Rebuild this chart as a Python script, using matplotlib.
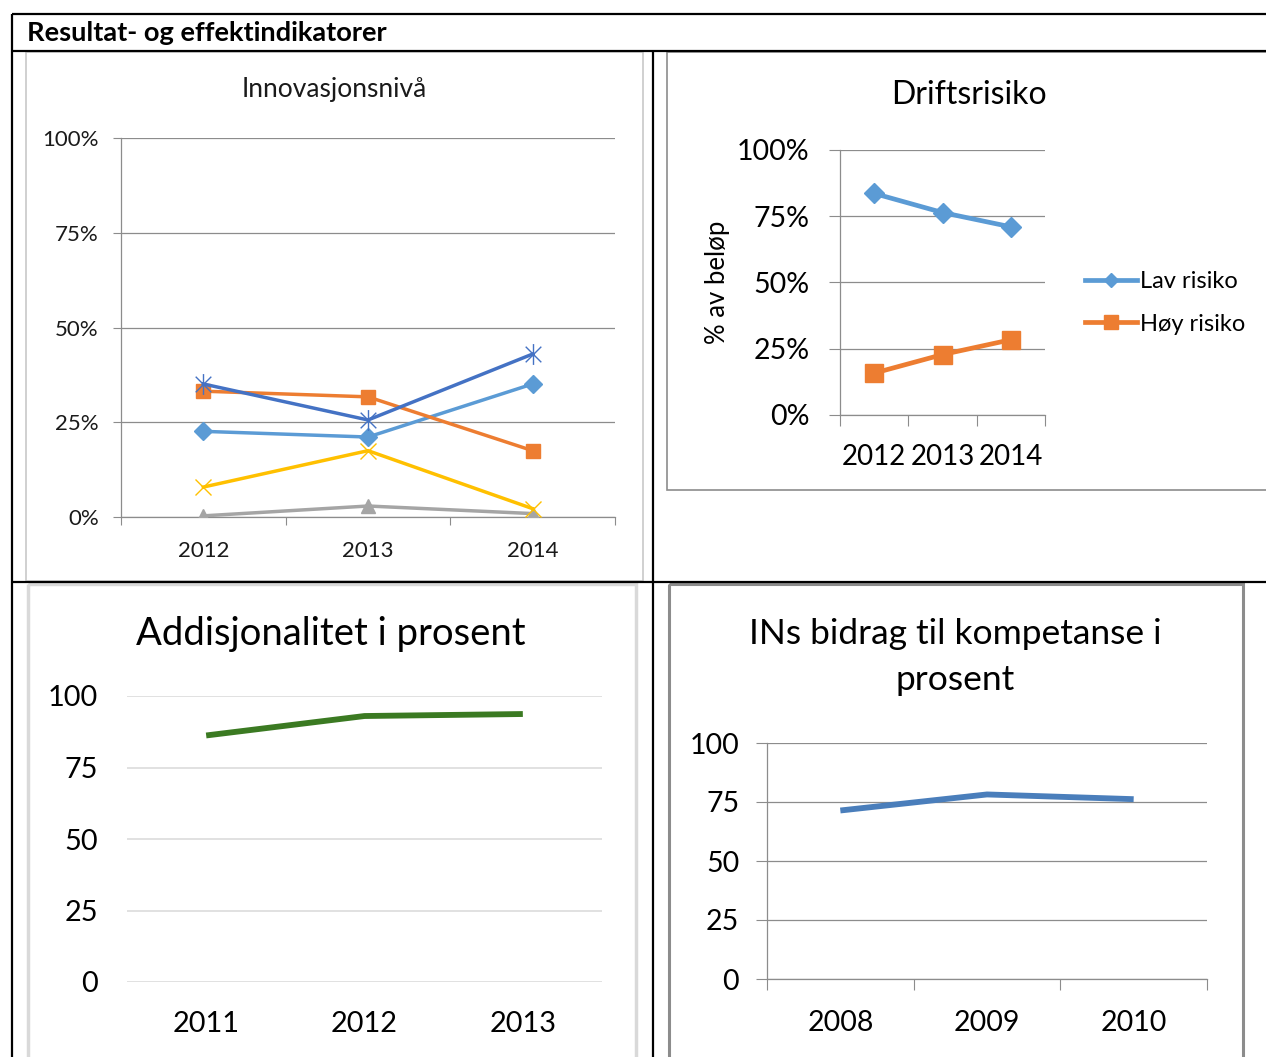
import matplotlib
matplotlib.use("Agg")
import matplotlib.pyplot as plt
from matplotlib.path import Path
from matplotlib.patches import Rectangle

plt.rcParams['font.family'] = ['Lato', 'DejaVu Sans']

# ---- data ----
innov_years = ["2012", "2013", "2014"]
innov_star = [35.1, 25.6, 43.0]
innov_square = [33.2, 31.7, 17.5]
innov_diamond = [22.6, 21.1, 35.1]
innov_cross = [7.9, 17.5, 2.2]
innov_triangle = [0.3, 2.9, 0.9]

drift_years = ["2012", "2013", "2014"]
lav_risiko = [83.6, 76.4, 71.0]
hoy_risiko = [15.8, 22.8, 28.4]

addis_years = ["2011", "2012", "2013"]
addis_values = [86.2, 93.0, 93.7]

komp_years = ["2008", "2009", "2010"]
komp_values = [71.4, 78.2, 76.2]

pct_ticks = [0, 25, 50, 75, 100]
pct_labels = ["0%", "25%", "50%", "75%", "100%"]
num_labels = ["0", "25", "50", "75", "100"]

W, H = 1266, 1057
fig = plt.figure(figsize=(W / 100, H / 100), dpi=100)


def rect(x0, y0, x1, y1):
    return [x0 / W, 1 - y1 / H, (x1 - x0) / W, (y1 - y0) / H]


# background layer in pixel units for the table frame and titles
bg = fig.add_axes([0, 0, 1, 1], zorder=0)
bg.set_xlim(0, W)
bg.set_ylim(H, 0)
bg.axis("off")

# chart frames
bg.add_patch(Rectangle((26, 52), 617, 529, fill=False, ec="#C8C8C8", lw=1.2))
bg.add_patch(Rectangle((667, 52), 610, 438, fill=False, ec="#8C8C8C", lw=1.2))
bg.add_patch(Rectangle((28, 584), 608, 480, fill=False, ec="#D9D9D9", lw=2.5))
bg.add_patch(Rectangle((669, 584), 574, 480, fill=False, ec="#8C8C8C", lw=2.2))

# table rules
tbl = dict(color="black", lw=1.6, solid_capstyle="butt")
bg.plot([12, W], [14, 14], **tbl)
bg.plot([12, W], [50.5, 50.5], **tbl)
bg.plot([12, 12], [14, H], **tbl)
bg.plot([653, 653], [50, H], **tbl)
bg.plot([12, W], [581.5, 581.5], **tbl)

bg.text(27, 33, "Resultat- og effektindikatorer", fontsize=19.6,
        fontweight="bold", ha="left", va="center", color="black")

txt = "#1A1A1A"
grid_dark = "#8C8C8C"

# ---- Innovasjonsnivå ----
bg.text(334, 90, "Innovasjonsnivå", fontsize=19, ha="center", va="center", color=txt)
ax1 = fig.add_axes(rect(121, 138, 615, 517), zorder=1)
ax1.patch.set_alpha(0)
x = range(len(innov_years))
star = Path([(0, -1), (0, 1), (-0.75, -0.75), (0.75, 0.75), (-0.75, 0.75), (0.75, -0.75)],
            [Path.MOVETO, Path.LINETO, Path.MOVETO, Path.LINETO, Path.MOVETO, Path.LINETO])
lw1 = 2.5
ax1.plot(x, innov_triangle, color="#A5A5A5", lw=lw1, marker="^", ms=10, zorder=3)
ax1.plot(x, innov_cross, color="#FFC000", lw=lw1, marker="x", ms=12, mew=1.0, zorder=3)
ax1.plot(x, innov_diamond, color="#5B9BD5", lw=lw1, marker="D", ms=9, zorder=3)
ax1.plot(x, innov_square, color="#ED7D31", lw=lw1, marker="s", ms=9.5, zorder=3)
ax1.plot(x, innov_star, color="#4472C4", lw=lw1, marker=star, ms=15, mew=1.0,
         mec="#4472C4", zorder=3)
ax1.set_xlim(-0.5, 2.5)
ax1.set_ylim(0, 100)
ax1.set_yticks(pct_ticks)
ax1.set_yticklabels(pct_labels)
ax1.set_xticks([-0.5, 0.5, 1.5, 2.5])
ax1.set_xticklabels([])
ax1.set_xticks(list(x), minor=True)
ax1.set_xticklabels(innov_years, minor=True)
ax1.tick_params(axis="x", which="major", length=6, color=grid_dark)
ax1.tick_params(axis="x", which="minor", length=0, pad=17, labelsize=16, labelcolor=txt)
ax1.tick_params(axis="y", length=6, color=grid_dark, pad=10, labelsize=16, labelcolor=txt)
ax1.grid(axis="y", color=grid_dark, lw=0.9)
for s in ("top", "right"):
    ax1.spines[s].set_visible(False)
for s in ("left", "bottom"):
    ax1.spines[s].set_color(grid_dark)
    ax1.spines[s].set_linewidth(0.9)

# ---- Driftsrisiko ----
bg.text(969, 95, "Driftsrisiko", fontsize=23, ha="center", va="center", color="black")
bg.text(717, 282, "% av beløp", fontsize=18.5, rotation=90, ha="center", va="center",
        color="black")
ax2 = fig.add_axes(rect(840, 150, 1045, 415), zorder=1)
ax2.patch.set_alpha(0)
x = range(len(drift_years))
h1, = ax2.plot(x, lav_risiko, color="#5B9BD5", lw=3.4, marker="D", ms=10, zorder=3,
               label="Lav risiko")
h2, = ax2.plot(x, hoy_risiko, color="#ED7D31", lw=3.4, marker="s", ms=13, zorder=3,
               label="Høy risiko")
ax2.set_xlim(-0.5, 2.5)
ax2.set_ylim(0, 100)
ax2.set_yticks(pct_ticks)
ax2.set_yticklabels(pct_labels)
ax2.set_xticks([-0.5, 0.5, 1.5, 2.5])
ax2.set_xticklabels([])
ax2.set_xticks(list(x), minor=True)
ax2.set_xticklabels(drift_years, minor=True)
ax2.tick_params(axis="x", which="major", length=8, color=grid_dark)
ax2.tick_params(axis="x", which="minor", length=0, pad=21, labelsize=20, labelcolor="black")
ax2.tick_params(axis="y", length=8, color=grid_dark, pad=14, labelsize=20.5, labelcolor="black")
ax2.grid(axis="y", color=grid_dark, lw=0.9)
for s in ("top", "right"):
    ax2.spines[s].set_visible(False)
for s in ("left", "bottom"):
    ax2.spines[s].set_color(grid_dark)
    ax2.spines[s].set_linewidth(0.9)
ax2.legend(handles=[h1, h2], loc="center left", bbox_to_anchor=(1085 / W, 1 - 303 / H),
           bbox_transform=fig.transFigure, frameon=False, fontsize=17,
           handlelength=2.2, handletextpad=0.15, labelspacing=0.9,
           borderpad=0, borderaxespad=0, markerscale=0.75)

# ---- Addisjonalitet i prosent ----
bg.text(331, 634, "Addisjonalitet i prosent", fontsize=27.5, ha="center", va="center",
        color="black")
ax3 = fig.add_axes(rect(127, 696, 602, 982), zorder=1)
ax3.patch.set_alpha(0)
x = range(len(addis_years))
ax3.plot(x, addis_values, color="#3B7A22", lw=4.2, solid_capstyle="butt", zorder=3)
ax3.set_xlim(-0.5, 2.5)
ax3.set_ylim(0, 100)
ax3.set_yticks(pct_ticks)
ax3.set_yticklabels(num_labels)
ax3.set_xticks(list(x))
ax3.set_xticklabels(addis_years)
ax3.tick_params(axis="both", length=0, labelsize=20.8, labelcolor="black")
ax3.tick_params(axis="y", pad=21)
ax3.tick_params(axis="x", pad=21)
ax3.grid(axis="y", color="#D9D9D9", lw=1.1)
for s in ax3.spines.values():
    s.set_visible(False)

# ---- INs bidrag til kompetanse i prosent ----
bg.text(955, 657, "INs bidrag til kompetanse i\nprosent", fontsize=25.5, ha="center",
        va="center", color="black", linespacing=1.55)
ax4 = fig.add_axes(rect(767, 743, 1207, 979), zorder=1)
ax4.patch.set_alpha(0)
x = range(len(komp_years))
ax4.plot(x, komp_values, color="#4A7EBB", lw=4.2, solid_capstyle="butt", zorder=3)
ax4.set_xlim(-0.5, 2.5)
ax4.set_ylim(0, 100)
ax4.set_yticks(pct_ticks)
ax4.set_yticklabels(num_labels)
ax4.set_xticks([-0.5, 0.5, 1.5, 2.5])
ax4.set_xticklabels([])
ax4.set_xticks(list(x), minor=True)
ax4.set_xticklabels(komp_years, minor=True)
ax4.tick_params(axis="x", which="major", length=8, color=grid_dark)
ax4.tick_params(axis="x", which="minor", length=0, pad=22, labelsize=20.5, labelcolor="black")
ax4.tick_params(axis="y", length=8, color=grid_dark, pad=12, labelsize=20.5, labelcolor="black")
ax4.grid(axis="y", color=grid_dark, lw=0.9)
for s in ("top", "right"):
    ax4.spines[s].set_visible(False)
for s in ("left", "bottom"):
    ax4.spines[s].set_color(grid_dark)
    ax4.spines[s].set_linewidth(0.9)

fig.savefig("out.png", dpi=100)
